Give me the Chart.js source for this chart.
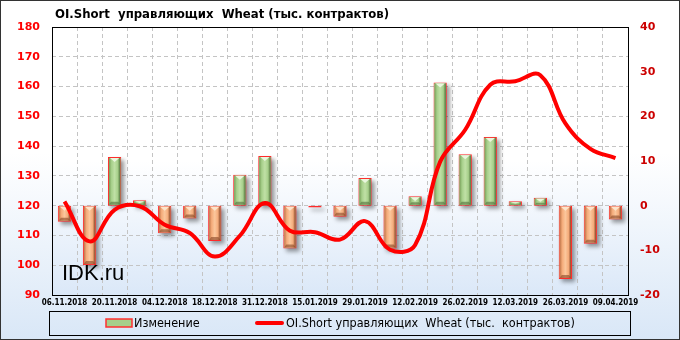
<!DOCTYPE html>
<html>
<head>
<meta charset="utf-8">
<script src="https://cdn.jsdelivr.net/npm/chart.js@4"></script>
<style>
  html, body { margin: 0; padding: 0; background: #fff; }
  #wrap { width: 680px; height: 340px; }
</style>
</head>
<body>
<div id="wrap"><canvas id="grafica" width="680" height="340"></canvas></div>
<script>
// даты отчётов (еженедельно)
const dates = ['06.11.2018','13.11.2018','20.11.2018','27.11.2018','04.12.2018','11.12.2018',
  '18.12.2018','24.12.2018','31.12.2018','08.01.2019','15.01.2019','22.01.2019','29.01.2019',
  '05.02.2019','12.02.2019','19.02.2019','26.02.2019','05.03.2019','12.03.2019','19.03.2019',
  '26.03.2019','02.04.2019','09.04.2019'];

// изменение за неделю, тыс. контрактов (правая ось)
const change = [-3.6, -13.3, 10.9, 1.2, -6.2, -2.9, -7.9, 6.9, 11.1, -9.6, -0.4, -2.5,
  6.2, -9.6, 2.1, 27.6, 11.5, 15.4, 1.0, 1.8, -16.4, -8.5, -3.1];

// OI.Short управляющих, тыс. контрактов (левая ось)
const oiShort = [121.4, 108.0, 118.6, 119.8, 113.6, 110.8, 102.9, 109.9, 120.9, 111.6, 111.1,
  108.6, 114.8, 105.2, 106.8, 134.8, 145.5, 160.6, 161.8, 163.8, 147.6, 139.1, 136.0];

const leftTicks = [90, 180, 10];   // min, max, шаг
const rightTicks = [-20, 40, 10];

const titleText = 'OI.Short  управляющих  Wheat (тыс. контрактов)';
const barLabel = 'Изменение';
const lineLabel = 'OI.Short управляющих  Wheat (тыс.  контрактов)';

const orange = { light: '#fbc79c', mid: '#f4ab7a', edge: '#c0764a', dark: '#874626', tri: '#fde4cb' };
const green = { light: '#c0e0a6', mid: '#a6cf8a', edge: '#78a05a', dark: '#50703a', tri: '#eaf6de' };

// фон всей картинки и области графика
const backgroundPlugin = {
  id: 'fon',
  beforeDraw(chart) {
    const ctx = chart.ctx;
    const a = chart.chartArea;
    ctx.save();
    let g = ctx.createLinearGradient(0, 0, 0, 340);
    g.addColorStop(0, '#ffffff');
    g.addColorStop(0.45, '#ffffff');
    g.addColorStop(1, '#d9e7f7');
    ctx.fillStyle = g;
    ctx.fillRect(0, 0, 680, 340);
    g = ctx.createLinearGradient(0, a.top, 0, a.bottom);
    g.addColorStop(0, '#ffffff');
    g.addColorStop(0.5, '#ffffff');
    g.addColorStop(1, '#dbe8f8');
    ctx.fillStyle = g;
    ctx.fillRect(a.left, a.top, a.right - a.left, a.bottom - a.top);
    ctx.restore();
  }
};

// тени и объём у столбиков
const bevelPlugin = {
  id: 'bevel',
  beforeDatasetDraw(chart, args) {
    if (args.index !== 0) return;
    const ctx = chart.ctx;
    ctx.save();
    ctx.filter = 'blur(2px)';
    ctx.fillStyle = 'rgba(0,0,0,0.4)';
    args.meta.data.forEach(el => {
      const p = el.getProps(['x', 'y', 'base', 'width'], true);
      const top = Math.min(p.y, p.base), bot = Math.max(p.y, p.base);
      ctx.fillRect(p.x - p.width / 2 + 3, top + 3, p.width, bot - top);
    });
    ctx.restore();
  },
  afterDatasetDraw(chart, args) {
    if (args.index !== 0) return;
    const ctx = chart.ctx;
    ctx.save();
    args.meta.data.forEach((el, i) => {
      const c = change[i] >= 0 ? green : orange;
      const p = el.getProps(['x', 'y', 'base', 'width'], true);
      const top = Math.min(p.y, p.base) + 1, bot = Math.max(p.y, p.base) - 1;
      const l = p.x - p.width / 2 + 1, r = p.x + p.width / 2 - 1;
      const h = bot - top;
      if (h <= 1) return;
      const g = ctx.createLinearGradient(l, 0, r, 0);
      g.addColorStop(0, c.edge);
      g.addColorStop(0.22, c.mid);
      g.addColorStop(0.5, c.light);
      g.addColorStop(0.78, c.mid);
      g.addColorStop(1, c.dark);
      ctx.fillStyle = g;
      ctx.fillRect(l, top, r - l, h);
      const d = Math.min(4, h / 2);
      ctx.fillStyle = c.tri;
      ctx.beginPath();
      ctx.moveTo(l + 1, top);
      ctx.lineTo(r - 1, top);
      ctx.lineTo(p.x, top + d);
      ctx.closePath();
      ctx.fill();
      ctx.fillStyle = c.dark;
      ctx.globalAlpha = 0.6;
      ctx.beginPath();
      ctx.moveTo(l, bot);
      ctx.lineTo(r, bot);
      ctx.lineTo(r - 2, bot - Math.min(3, h / 3));
      ctx.lineTo(l + 2, bot - Math.min(3, h / 3));
      ctx.closePath();
      ctx.fill();
      ctx.globalAlpha = 1;
    });
    ctx.restore();
  }
};

// рамки, заголовок, подпись, легенда
const decorPlugin = {
  id: 'decor',
  afterDraw(chart) {
    const ctx = chart.ctx;
    const a = chart.chartArea;
    ctx.save();
    ctx.strokeStyle = '#000';
    ctx.lineWidth = 1;
    ctx.strokeRect(Math.round(a.left) + 0.5, Math.round(a.top) + 0.5,
      Math.round(a.right - a.left), Math.round(a.bottom - a.top));
    ctx.strokeStyle = '#333';
    ctx.strokeRect(0.5, 0.5, 679, 339);

    ctx.fillStyle = '#000';
    ctx.textBaseline = 'alphabetic';
    ctx.font = 'bold 13px "DejaVu Sans Condensed"';
    ctx.fillText(titleText, 55, 18);

    ctx.font = '22px "Liberation Sans"';
    ctx.fillText('IDK.ru', 62, 280);

    // легенда
    ctx.strokeStyle = '#000';
    ctx.strokeRect(49.5, 311.5, 581, 24);
    ctx.fillStyle = green.mid;
    ctx.fillRect(106, 319, 26, 8);
    ctx.strokeStyle = '#ff3030';
    ctx.lineWidth = 1.5;
    ctx.strokeRect(106, 319, 26, 8);
    ctx.strokeStyle = '#ff0000';
    ctx.lineWidth = 4;
    ctx.lineCap = 'round';
    ctx.beginPath();
    ctx.moveTo(257, 323);
    ctx.lineTo(282, 323);
    ctx.stroke();
    ctx.fillStyle = '#000';
    ctx.font = '12.5px "DejaVu Sans Condensed"';
    ctx.textBaseline = 'middle';
    ctx.fillText(barLabel, 134, 324);
    ctx.fillText(lineLabel, 286, 324);
    ctx.restore();
  }
};

const ctx = document.getElementById('grafica').getContext('2d');

const chart = new Chart(ctx, {
  type: 'bar',
  data: {
    labels: dates,
    datasets: [{
      type: 'bar',
      label: barLabel,
      data: change,
      yAxisID: 'y1',
      backgroundColor: change.map(v => v >= 0 ? green.mid : orange.mid),
      borderColor: '#ff2a2a',
      borderWidth: 1,
      borderSkipped: false,
      barPercentage: 0.53,
      categoryPercentage: 1,
      order: 2
    }, {
      type: 'line',
      label: lineLabel,
      data: oiShort,
      yAxisID: 'y',
      borderColor: '#ff0000',
      borderWidth: 4,
      pointRadius: 0,
      tension: 0.4,
      fill: false,
      order: 1
    }]
  },
  options: {
    responsive: false,
    animation: false,
    devicePixelRatio: 1,
    layout: { padding: { top: 27, bottom: 29, left: 0, right: 0 } },
    plugins: {
      legend: { display: false },
      tooltip: { enabled: false }
    },
    scales: {
      x: {
        offset: true,
        grid: { offset: true, color: '#c4c4c4', drawTicks: false },
        border: { display: false, dash: [4, 3] },
        ticks: {
          autoSkip: false,
          maxRotation: 0,
          padding: 3,
          color: '#000',
          font: { family: 'DejaVu Sans Condensed', size: 8, weight: 'bold' },
          callback: (v, i) => i % 2 === 0 ? dates[i] : ''
        },
        afterFit: s => { s.height = 16; }
      },
      y: {
        position: 'left',
        min: leftTicks[0], max: leftTicks[1],
        grid: { color: '#c4c4c4', drawTicks: false },
        border: { display: false, dash: [4, 3] },
        ticks: {
          stepSize: leftTicks[2],
          padding: 12,
          color: '#ff0000',
          font: { family: 'DejaVu Sans', size: 11, weight: 'bold' }
        },
        afterFit: s => { s.width = 52; }
      },
      y1: {
        position: 'right',
        min: rightTicks[0], max: rightTicks[1],
        grid: { display: false, drawTicks: false },
        border: { display: false },
        ticks: {
          stepSize: rightTicks[2],
          padding: 12,
          color: '#cc0000',
          font: { family: 'DejaVu Sans', size: 11, weight: 'bold' }
        },
        afterFit: s => { s.width = 52; }
      }
    }
  },
  plugins: [backgroundPlugin, bevelPlugin, decorPlugin]
});
</script>
</body>
</html>
